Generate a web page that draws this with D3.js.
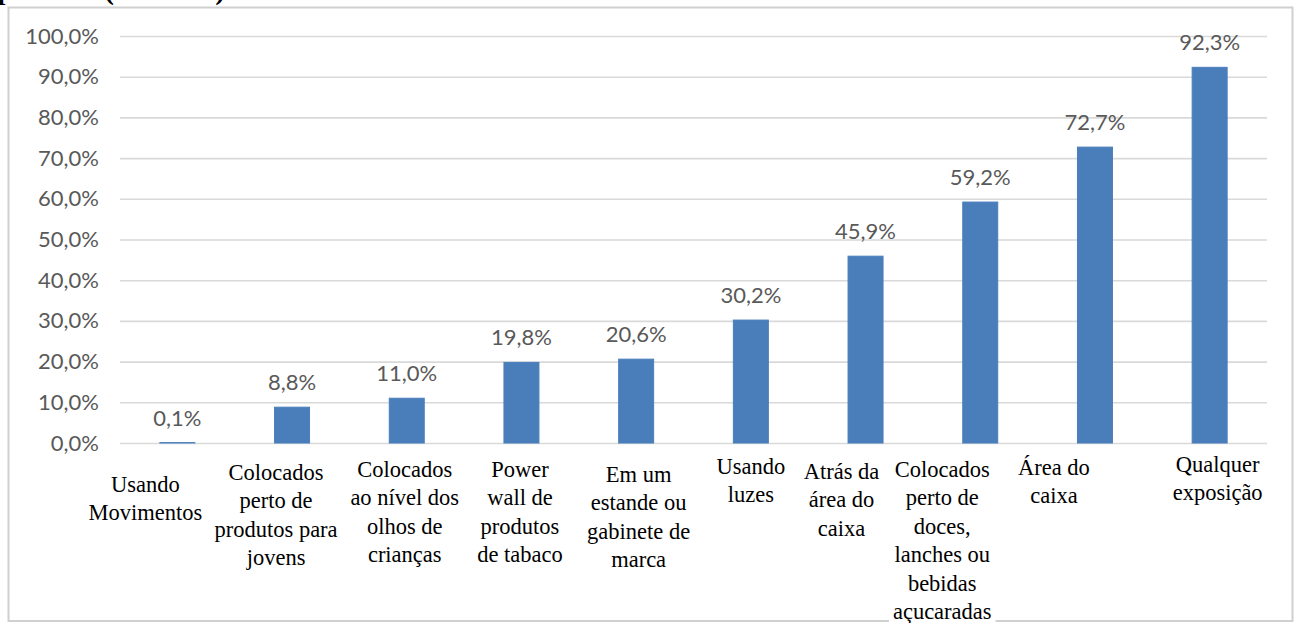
<!DOCTYPE html>
<html><head><meta charset="utf-8">
<script src="https://cdn.jsdelivr.net/npm/d3@7"></script>
<style>html,body{margin:0;padding:0;background:#fff;overflow:hidden}</style>
</head><body>
<svg id="chart" width="1295" height="623"></svg>
<script>
// ---- data ----
const categories = [
  "Usando\nMovimentos",
  "Colocados\nperto de\nprodutos para\njovens",
  "Colocados\nao nível dos\nolhos de\ncrianças",
  "Power\nwall de\nprodutos\nde tabaco",
  "Em um\nestande ou\ngabinete de\nmarca",
  "Usando\nluzes",
  "Atrás da\nárea do\ncaixa",
  "Colocados\nperto de\ndoces,\nlanches ou\nbebidas\naçucaradas",
  "Área do\ncaixa",
  "Qualquer\nexposição"
];
const values = [0.1, 8.8, 11.0, 19.8, 20.6, 30.2, 45.9, 59.2, 72.7, 92.3];
const yTicks = [0, 10, 20, 30, 40, 50, 60, 70, 80, 90, 100];
const yTickLabels = ["0,0%","10,0%","20,0%","30,0%","40,0%","50,0%","60,0%","70,0%","80,0%","90,0%","100,0%"];
const titleParts = ["pontos", "(n=1.000)"];

// ---- layout (not data) ----
const labelDx = [-32, -16, -2, -1.5, 2.5, 0, -24, -38, -41, 8];
const labelBaseline = [492, 480, 477, 477, 482, 474, 479, 477, 475, 472];
const lineH = 28.4;
const plot = {left: 120, right: 1267, top: 36, bottom: 443};

const fmt = v => d3.format(".1f")(v).replace(".", ",") + "%";

const svg = d3.select("#chart");

// frame
svg.append("rect")
  .attr("x", 8.5).attr("y", 7.5).attr("width", 1284).attr("height", 613.5)
  .attr("fill", "#fff").attr("stroke", "#d0d0d0").attr("stroke-width", 2);

// cut-off title (only its lowest part is visible at the top edge)
const title = svg.append("text")
  .attr("y", -1)
  .attr("font-family", "Liberation Serif, serif")
  .attr("font-weight", "bold").attr("font-size", 30).attr("fill", "#000");
title.append("tspan").attr("x", -3).text(titleParts[0]);
title.append("tspan").attr("x", 104).text(titleParts[1]);

const x = d3.scaleBand()
  .domain(d3.range(values.length))
  .range([plot.left, plot.right])
  .paddingInner(0.695).paddingOuter(0.3475);
const y = d3.scaleLinear().domain([0, 100]).range([plot.bottom, plot.top]);

// y axis + gridlines
const yAxis = d3.axisLeft(y)
  .tickValues(yTicks)
  .tickSize(-(plot.right - plot.left))
  .tickPadding(21)
  .tickFormat((d, i) => yTickLabels[i]);
const gy = svg.append("g").attr("transform", `translate(${plot.left},0)`).call(yAxis);
gy.select(".domain").remove();
gy.selectAll(".tick line").attr("stroke", "#d9d9d9").attr("stroke-width", 1.6);
gy.selectAll(".tick text")
  .attr("font-family", "Lato, sans-serif").attr("font-size", 22)
  .attr("fill", "#595959");

// bars
const barColor = "#4a7ebb";
svg.append("g").selectAll("rect").data(values).join("rect")
  .attr("x", (d, i) => x(i))
  .attr("width", x.bandwidth())
  .attr("y", d => y(d))
  .attr("height", d => y(0) - y(d))
  .attr("fill", barColor)
  .attr("stroke", barColor).attr("stroke-width", 1);

// value labels
svg.append("g").selectAll("text").data(values).join("text")
  .attr("x", (d, i) => x(i) + x.bandwidth() / 2)
  .attr("y", d => y(d) - 17)
  .attr("text-anchor", "middle")
  .attr("font-family", "Lato, sans-serif").attr("font-size", 22)
  .attr("fill", "#595959")
  .text(d => fmt(d));

// category labels
const cg = svg.append("g").selectAll("g").data(categories).join("g");
cg.each(function(d, i) {
  const g = d3.select(this);
  const t = g.append("text")
    .attr("text-anchor", "middle")
    .attr("font-family", "Liberation Serif, serif")
    .attr("font-size", 22.5).attr("fill", "#000");
  const cx = x(i) + x.bandwidth() / 2 + labelDx[i];
  d.split("\n").forEach((line, j) => {
    t.append("tspan").attr("x", cx).attr("y", labelBaseline[i] + j * lineH).text(line);
  });
  const bb = t.node().getBBox();
  g.insert("rect", "text")
    .attr("x", bb.x - 4).attr("y", bb.y - 2)
    .attr("width", bb.width + 8).attr("height", bb.height + 4)
    .attr("fill", "#fff");
});
</script>
</body></html>
